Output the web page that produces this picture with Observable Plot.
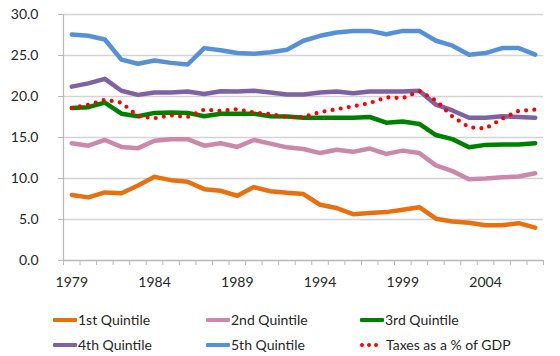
<!DOCTYPE html>
<html><head><meta charset="utf-8">
<script src="https://cdn.jsdelivr.net/npm/d3@7"></script>
<script src="https://cdn.jsdelivr.net/npm/@observablehq/plot@0.6"></script>
<style>
body{margin:0;background:#fff;font-family:Lato,sans-serif;}
#wrap{position:relative;width:560px;height:356px;overflow:hidden;background:#fff}
.leg{position:absolute;font-size:14px;color:#262626;display:flex;align-items:center;height:20px;white-space:nowrap;line-height:20px}
.sw{display:inline-block;width:24px;height:4px;margin-right:1px;border-radius:1px}
.dots{display:inline-flex;width:26px;gap:3px;margin-right:0px;align-items:center}
.dots i{display:inline-block;width:4px;height:4px;border-radius:50%;background:#ff0000}
</style></head><body><div id="wrap"></div>
<script>
const years = [1979,1980,1981,1982,1983,1984,1985,1986,1987,1988,1989,1990,1991,1992,1993,1994,1995,1996,1997,1998,1999,2000,2001,2002,2003,2004,2005,2006,2007];
const labelYears = [1979,1984,1989,1994,1999,2004];
const yTicks = [0,5,10,15,20,25,30];

const q1 = [8.0,7.7,8.3,8.2,9.15,10.2,9.8,9.6,8.7,8.5, 7.9,8.95,8.45,8.25,8.1,6.8,6.4,5.65,5.8, 5.9,6.2,6.5,5.1,4.75,4.6,4.3,4.3,4.55,4.0];
const q2 = [14.3,14.0,14.7,13.85,13.7,14.6,14.8,14.8,14.0,14.3, 13.85,14.7,14.25,13.8,13.6,13.1,13.5,13.25,13.65, 13.0,13.4,13.1,11.6,10.9,9.9,10.0,10.15,10.25,10.65];
const q3 = [18.6,18.7,19.25,17.9,17.6,18.0,18.05,18.0,17.6,17.9, 17.9,17.9,17.6,17.55,17.4,17.4,17.4,17.4,17.5, 16.8,16.95,16.65,15.3,14.8,13.8,14.1,14.15,14.15,14.3];
const q4 = [21.2,21.6,22.15,20.7,20.2,20.5,20.5,20.6,20.3,20.65, 20.6,20.7,20.5,20.25,20.25,20.5,20.6,20.4,20.6, 20.6,20.6,20.7,19.0,18.3,17.4,17.4,17.6,17.5,17.4];
const q5 = [27.55,27.4,26.95,24.5,24.0,24.4,24.1,23.9,25.9,25.65, 25.3,25.2,25.4,25.7,26.8,27.4,27.8,28.0,28.0, 27.6,28.0,28.0,26.8,26.2,25.1,25.3,25.9,25.9,25.1];
const taxes = [18.6,19.0,19.6,19.25,17.6,17.35,17.7,17.5,18.4,18.25, 18.45,18.05,17.85,17.5,17.5,18.1,18.45,18.8,19.2, 19.9,19.8,20.65,19.5,17.55,16.25,16.1,17.3,18.25,18.4];

const seriesNames = ["1st Quintile","2nd Quintile","3rd Quintile","4th Quintile","5th Quintile"];
const seriesColors = ["#E8700F","#CC88AA","#008000","#7F62A3","#5690D6"];
const taxName = "Taxes as a % of GDP";
const taxColor = "#FF0000";

const quintiles = [q1,q2,q3,q4,q5];
const rows = [];
quintiles.forEach((vals, k) => vals.forEach((v, i) => rows.push({year: years[i], value: v, series: seriesNames[k]})));
const taxRows = taxes.map((v, i) => ({year: years[i], value: v}));
const boundaries = years.map(y => y - 0.5).concat([years[years.length - 1] + 0.5]);

const chart = Plot.plot({
  width: 560, height: 300,
  marginLeft: 63, marginRight: 17, marginTop: 14, marginBottom: 40,
  style: {fontFamily: "Lato, sans-serif", fontSize: "14px", color: "#262626", background: "white", overflow: "visible"},
  x: {type: "linear", domain: [boundaries[0], boundaries[boundaries.length - 1]]},
  y: {domain: [0, 30]},
  color: {domain: seriesNames, range: seriesColors},
  marks: [
    Plot.gridY(yTicks.slice(1), {stroke: "#d4d4d4", strokeOpacity: 1, strokeWidth: 1.5}),
    Plot.axisY(yTicks, {tickFormat: d => d.toFixed(1), tickSize: 5, tickPadding: 20, stroke: "#b8b8b8", label: null}),
    Plot.ruleX([boundaries[0]], {stroke: "#b8b8b8", strokeWidth: 1.2}),
    Plot.ruleY([0], {stroke: "#b8b8b8", strokeWidth: 1.5}),
    Plot.axisX(boundaries, {tickSize: 5, tickFormat: () => "", stroke: "#b8b8b8", label: null}),
    Plot.axisX(labelYears, {tickSize: 0, tickPadding: 17, tickFormat: d => String(d), label: null}),
    Plot.line(rows, {x: "year", y: "value", z: "series", stroke: "series", strokeWidth: 4.5, strokeLinejoin: "round", strokeLinecap: "round"}),
    Plot.line(taxRows, {x: "year", y: "value", stroke: taxColor, strokeWidth: 4.2, strokeDasharray: "0,8.2", strokeLinecap: "round"})
  ]
});
const wrap = document.getElementById("wrap");
chart.style.position = "absolute";
chart.style.left = "0px";
chart.style.top = "0px";
wrap.appendChild(chart);

const colX = [53, 206, 360];
const rowY = [310, 335];
const legendItems = seriesNames.map((n, k) => ({name: n, color: seriesColors[k], dotted: false}))
  .concat([{name: taxName, color: taxColor, dotted: true}]);
const order = [0,1,2,3,4,5];
order.forEach((k, idx) => {
  const it = legendItems[k];
  const d = document.createElement("div");
  d.className = "leg";
  d.style.left = colX[idx % 3] + "px";
  d.style.top = rowY[Math.floor(idx / 3)] + "px";
  if (it.dotted) {
    d.innerHTML = '<span class="dots"><i></i><i></i><i></i></span>';
  } else {
    d.innerHTML = '<span class="sw" style="background:' + it.color + '"></span>';
  }
  const t = document.createElement("span");
  t.textContent = it.name;
  d.appendChild(t);
  wrap.appendChild(d);
});
</script>
</body></html>
